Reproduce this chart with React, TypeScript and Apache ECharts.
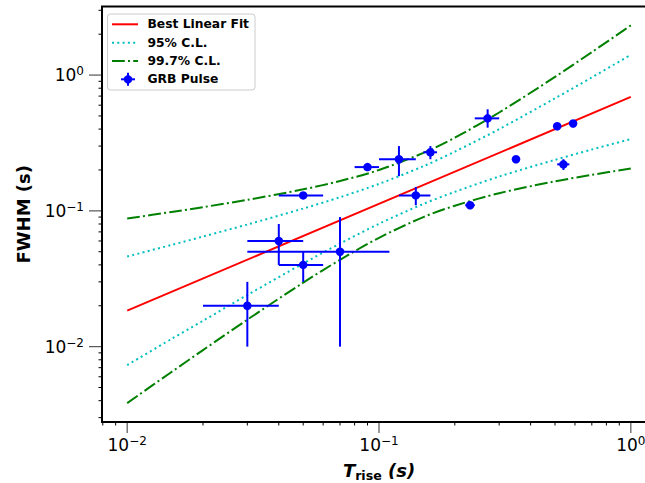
import React, { useEffect, useRef } from 'react';
import * as echarts from 'echarts';

// ---- data ----
const trise = [0.03, 0.04, 0.05, 0.07, 0.05, 0.09, 0.12, 0.14, 0.16, 0.27, 0.23, 0.35, 0.51, 0.59, 0.54];
const fwhm = [0.02, 0.06, 0.04, 0.05, 0.13, 0.21, 0.24, 0.13, 0.27, 0.48, 0.11, 0.24, 0.42, 0.44, 0.22];
const triseLo = [0.02, 0.03, 0.04, 0.03, 0.04, 0.08, 0.1, 0.12, 0.15, 0.24, 0.22, 0.35, 0.51, 0.59, 0.51];
const triseHi = [0.04, 0.05, 0.06, 0.11, 0.06, 0.1, 0.14, 0.16, 0.17, 0.3, 0.24, 0.35, 0.51, 0.59, 0.57];
const fwhmLo = [0.01, 0.04, 0.03, 0.01, 0.13, 0.21, 0.18, 0.11, 0.24, 0.41, 0.104, 0.24, 0.42, 0.44, 0.2];
const fwhmHi = [0.03, 0.08, 0.05, 0.09, 0.13, 0.21, 0.3, 0.15, 0.3, 0.56, 0.117, 0.24, 0.42, 0.44, 0.24];

const fitX = [0.01, 1.0];
const fitY = [0.0184, 0.69];

const bandX = [0.01, 0.015, 0.02, 0.03, 0.05, 0.07, 0.1, 0.15, 0.2, 0.3, 0.5, 0.7, 1.0];
const cl95Upper = [0.0461, 0.0561, 0.0647, 0.0793, 0.104, 0.126, 0.158, 0.213, 0.273, 0.4, 0.674, 0.961, 1.41];
const cl95Lower = [0.00731, 0.0114, 0.0155, 0.024, 0.041, 0.0574, 0.0803, 0.1125, 0.138, 0.179, 0.2375, 0.283, 0.338];
const cl997Upper = [0.0879, 0.0981, 0.1065, 0.1205, 0.144, 0.166, 0.2, 0.267, 0.346, 0.53, 0.97, 1.475, 2.32];
const cl997Lower = [0.00384, 0.00651, 0.00943, 0.0158, 0.0296, 0.0436, 0.0633, 0.09, 0.109, 0.135, 0.165, 0.184, 0.205];

const xMajorTicks = [0.01, 0.1, 1];
const xMinorTicks = [0.008, 0.009, 0.02, 0.03, 0.04, 0.05, 0.06, 0.07, 0.08, 0.09, 0.2, 0.3, 0.4, 0.5, 0.6, 0.7, 0.8, 0.9];
const yMajorTicks = [0.01, 0.1, 1];
const yMinorTicks = [0.003, 0.004, 0.005, 0.006, 0.007, 0.008, 0.009, 0.02, 0.03, 0.04, 0.05, 0.06, 0.07, 0.08, 0.09,
  0.2, 0.3, 0.4, 0.5, 0.6, 0.7, 0.8, 0.9, 2, 3];

const legendLabels = ['Best Linear Fit', '95% C.L.', '99.7% C.L.', 'GRB Pulse'];

const X_MIN = 0.007943;
const X_MAX = 1.2589;
const Y_MIN = 0.002786;
const Y_MAX = 3.199;

const FONT = '"DejaVu Sans", sans-serif';
const CYAN = '#00bfbf';
const GREEN = '#008000';
const BLUE = '#0000ff';

function powLabel(v: number): string {
  const l = Math.log10(v);
  const e = Math.round(l);
  if (Math.abs(l - e) > 1e-6) return '';
  const s = e < 0 ? '\u2212' + Math.abs(e) : String(e);
  return '{b|10}{s|' + s + '}';
}

export default function App() {
  const ref = useRef<HTMLDivElement>(null);
  useEffect(() => {
    if (!ref.current) return;
    const chart = echarts.init(ref.current, null, { renderer: 'svg' });

    const errData = trise.map((x, i) => [x, fwhm[i], triseLo[i], triseHi[i], fwhmLo[i], fwhmHi[i]]);
    const xTickData = xMajorTicks.map((v) => [v, Y_MIN, 1]).concat(xMinorTicks.map((v) => [v, Y_MIN, 0]));
    const yTickData = yMajorTicks.map((v) => [X_MIN, v, 1]).concat(yMinorTicks.map((v) => [X_MIN, v, 0]));

    const labelRich = {
      b: { fontSize: 17, lineHeight: 20, fontFamily: FONT, color: '#000' },
      s: { fontSize: 12, lineHeight: 13, verticalAlign: 'top', fontFamily: FONT, color: '#000' },
    };

    const lx1 = 112, lx2 = 138, tx = 147.5;
    const rows = [24.3, 42.7, 61, 79.3];
    const legendFont = 'bold 12.3px "DejaVu Sans", sans-serif';
    const textEl = (t: string, y: number) => ({
      type: 'text', z: 101, silent: true,
      style: { text: t, x: tx, y, font: legendFont, fill: '#000', align: 'left', verticalAlign: 'middle', textAlign: 'left', textVerticalAlign: 'middle' },
    });
    const mx = 128;

    const option: any = {
      animation: false,
      grid: {
        left: 102, top: 6.5, width: 554, height: 415.5,
        show: true, borderColor: '#000', borderWidth: 2, backgroundColor: 'transparent',
        containLabel: false, outerBoundsMode: 'none',
      },
      xAxis: {
        type: 'log', min: X_MIN, max: X_MAX, logBase: 10,
        name: '{t|T}{sub|rise}{p| (s)}',
        nameLocation: 'middle', nameGap: 36, nameMoveOverlap: false,
        nameTextStyle: {
          rich: {
            t: { fontSize: 18, fontWeight: 'bold', fontStyle: 'italic', lineHeight: 24, fontFamily: FONT, color: '#000' },
            sub: { fontSize: 12.6, fontWeight: 'bold', lineHeight: 13, verticalAlign: 'bottom', fontFamily: FONT, color: '#000' },
            p: { fontSize: 18, fontWeight: 'bold', fontStyle: 'italic', lineHeight: 24, fontFamily: FONT, color: '#000' },
          },
        },
        axisLine: { show: false },
        axisTick: { show: false },
        minorTick: { show: false },
        splitLine: { show: false },
        axisLabel: { margin: 13, formatter: powLabel, rich: labelRich, fontFamily: FONT, color: '#000', hideOverlap: false },
      },
      yAxis: {
        type: 'log', min: Y_MIN, max: Y_MAX, logBase: 10,
        name: 'FWHM (s)',
        nameLocation: 'middle', nameGap: 68, nameMoveOverlap: false,
        nameTextStyle: { fontSize: 18, fontWeight: 'bold', fontFamily: FONT, color: '#000', lineHeight: 22 },
        axisLine: { show: false },
        axisTick: { show: false },
        minorTick: { show: false },
        splitLine: { show: false },
        axisLabel: { margin: 18, formatter: powLabel, rich: labelRich, fontFamily: FONT, color: '#000', hideOverlap: false },
      },
      series: [
        {
          type: 'line', name: legendLabels[0], data: fitX.map((x, i) => [x, fitY[i]]),
          symbol: 'none', lineStyle: { color: '#ff0000', width: 2 }, z: 2,
        },
        {
          type: 'line', name: legendLabels[1], data: bandX.map((x, i) => [x, cl95Upper[i]]),
          symbol: 'none', smooth: 0.3, lineStyle: { color: CYAN, width: 2, type: [2, 3.3], cap: 'butt' }, z: 2,
        },
        {
          type: 'line', data: bandX.map((x, i) => [x, cl95Lower[i]]),
          symbol: 'none', smooth: 0.3, lineStyle: { color: CYAN, width: 2, type: [2, 3.3], cap: 'butt' }, z: 2,
        },
        {
          type: 'line', name: legendLabels[2], data: bandX.map((x, i) => [x, cl997Upper[i]]),
          symbol: 'none', smooth: 0.3, lineStyle: { color: GREEN, width: 2, type: [12.8, 3.2, 2, 3.2], cap: 'butt' }, z: 2,
        },
        {
          type: 'line', data: bandX.map((x, i) => [x, cl997Lower[i]]),
          symbol: 'none', smooth: 0.3, lineStyle: { color: GREEN, width: 2, type: [12.8, 3.2, 2, 3.2], cap: 'butt' }, z: 2,
        },
        {
          type: 'custom', name: legendLabels[3], data: errData, encode: { x: 0, y: 1 }, z: 3, silent: true,
          renderItem: (params: any, api: any) => {
            const x = api.value(0), y = api.value(1);
            const pl = api.coord([api.value(2), y]);
            const ph = api.coord([api.value(3), y]);
            const pb = api.coord([x, api.value(4)]);
            const pt = api.coord([x, api.value(5)]);
            return {
              type: 'group',
              children: [
                { type: 'line', shape: { x1: pl[0], y1: pl[1], x2: ph[0], y2: ph[1] }, style: { stroke: BLUE, lineWidth: 2 } },
                { type: 'line', shape: { x1: pb[0], y1: pb[1], x2: pt[0], y2: pt[1] }, style: { stroke: BLUE, lineWidth: 2 } },
              ],
            };
          },
        },
        {
          type: 'scatter', data: trise.map((x, i) => [x, fwhm[i]]), symbol: 'circle', symbolSize: 8.5,
          itemStyle: { color: BLUE, opacity: 1 }, z: 4, silent: true,
        },
        {
          type: 'custom', data: xTickData, encode: { x: 0, y: 1 }, z: 5, silent: true, clip: false,
          renderItem: (params: any, api: any) => {
            const p = api.coord([api.value(0), Y_MIN]);
            const major = api.value(2) === 1;
            const len = major ? 11 : 3.5;
            return {
              type: 'line', shape: { x1: p[0], y1: p[1] + 1, x2: p[0], y2: p[1] + len },
              style: { stroke: major ? '#555' : '#000', lineWidth: major ? 1.2 : 1 },
            };
          },
        },
        {
          type: 'custom', data: yTickData, encode: { x: 0, y: 1 }, z: 5, silent: true, clip: false,
          renderItem: (params: any, api: any) => {
            const p = api.coord([X_MIN, api.value(1)]);
            const major = api.value(2) === 1;
            const len = major ? 13 : 3.5;
            return {
              type: 'line', shape: { x1: p[0] - 1, y1: p[1], x2: p[0] - len, y2: p[1] },
              style: { stroke: major ? '#555' : '#000', lineWidth: major ? 1.2 : 1 },
            };
          },
        },
      ],
      graphic: [
        {
          type: 'rect', z: 100, silent: true,
          shape: { x: 107.5, y: 14, width: 147.5, height: 76, r: 3 },
          style: { fill: 'rgba(255,255,255,0.85)', stroke: '#cccccc', lineWidth: 1 },
        },
        { type: 'line', z: 101, silent: true, shape: { x1: lx1, y1: rows[0], x2: lx2, y2: rows[0] }, style: { stroke: '#ff0000', lineWidth: 2 } },
        { type: 'line', z: 101, silent: true, shape: { x1: lx1, y1: rows[1], x2: lx2, y2: rows[1] }, style: { stroke: CYAN, lineWidth: 2, lineDash: [2, 3.3] } },
        { type: 'line', z: 101, silent: true, shape: { x1: lx1, y1: rows[2], x2: lx2, y2: rows[2] }, style: { stroke: GREEN, lineWidth: 2, lineDash: [12.8, 3.2, 2, 3.2] } },
        { type: 'line', z: 101, silent: true, shape: { x1: mx - 7, y1: rows[3], x2: mx + 7, y2: rows[3] }, style: { stroke: BLUE, lineWidth: 2 } },
        { type: 'line', z: 101, silent: true, shape: { x1: mx, y1: rows[3] - 6.5, x2: mx, y2: rows[3] + 6.5 }, style: { stroke: BLUE, lineWidth: 2 } },
        { type: 'circle', z: 102, silent: true, shape: { cx: mx, cy: rows[3], r: 4.2 }, style: { fill: BLUE } },
        textEl(legendLabels[0], rows[0]),
        textEl(legendLabels[1], rows[1]),
        textEl(legendLabels[2], rows[2]),
        textEl(legendLabels[3], rows[3]),
      ],
    };

    chart.setOption(option);
    return () => chart.dispose();
  }, []);

  return (
    <div
      ref={ref}
      style={{ position: 'absolute', left: 0, top: 0, width: 645, height: 483, background: '#fff' }}
    />
  );
}
